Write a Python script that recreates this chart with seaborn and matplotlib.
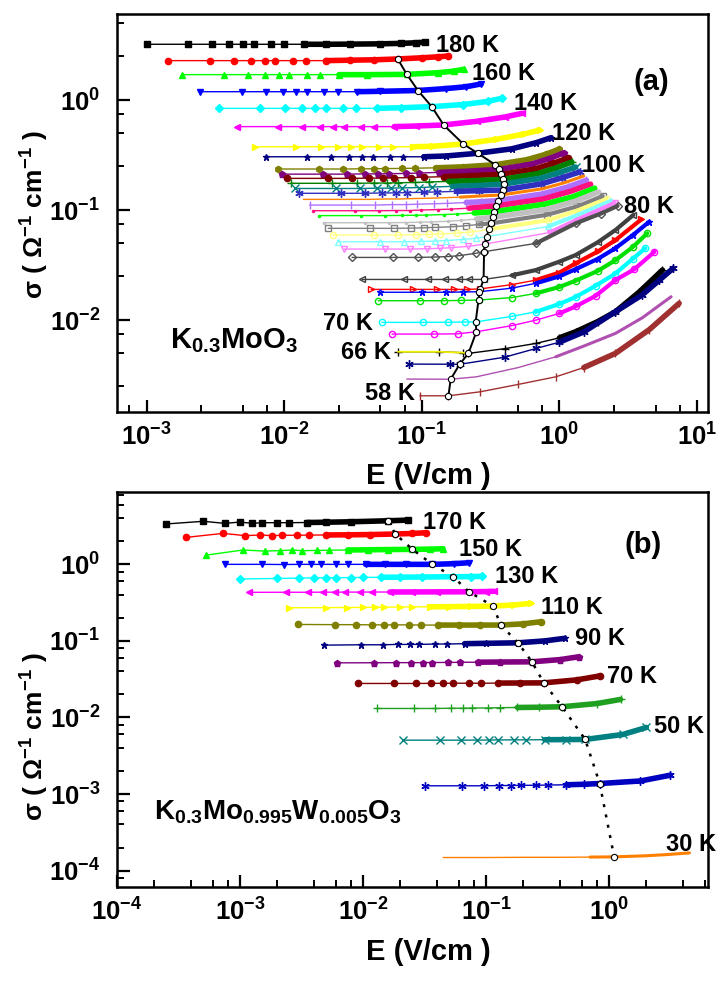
import matplotlib
matplotlib.use("Agg")
import matplotlib.pyplot as plt
import seaborn as sns
import pandas as pd
from matplotlib import font_manager as fm
from matplotlib.ticker import LogLocator, NullFormatter, LogFormatterSciNotation

# ---------------- data: panel (a) K0.3MoO3 ----------------
a_E = [
    [0.001, 0.002, 0.003, 0.004, 0.005, 0.006, 0.008, 0.010, 0.014, 0.02, 0.03, 0.05, 0.07, 0.09, 0.105],
    [0.00144, 0.00288, 0.00432, 0.00576, 0.0072, 0.00864, 0.0115, 0.0144, 0.02, 0.03, 0.045, 0.0668, 0.1, 0.13, 0.156],
    [0.00182, 0.00364, 0.00546, 0.00728, 0.0091, 0.0109, 0.0146, 0.0182, 0.025, 0.04, 0.0778, 0.13, 0.17, 0.201],
    [0.00245, 0.0049, 0.00735, 0.0098, 0.01225, 0.0147, 0.0196, 0.0245, 0.034, 0.05, 0.0937, 0.15, 0.21, 0.27],
    [0.00335, 0.0067, 0.01005, 0.0134, 0.01675, 0.0201, 0.0268, 0.0335, 0.047, 0.07, 0.118, 0.2, 0.3, 0.384],
    [0.00452, 0.00904, 0.01356, 0.01808, 0.0226, 0.0271, 0.0362, 0.0452, 0.063, 0.09, 0.144, 0.25, 0.4, 0.535],
    [0.00614, 0.01228, 0.01842, 0.02456, 0.0307, 0.0368, 0.0491, 0.0614, 0.086, 0.12, 0.2, 0.35, 0.55, 0.72],
    [0.00734, 0.01468, 0.02202, 0.02936, 0.0367, 0.044, 0.0587, 0.0734, 0.103, 0.15, 0.255, 0.45, 0.68, 0.87],
    [0.00897, 0.0179, 0.0269, 0.0359, 0.0449, 0.0538, 0.0718, 0.0897, 0.126, 0.2, 0.341, 0.58, 0.8, 1.0],
    [0.0096, 0.0192, 0.0288, 0.0384, 0.048, 0.0576, 0.0768, 0.096, 0.134, 0.21, 0.366, 0.63, 0.85, 1.07],
    [0.0104, 0.0208, 0.0312, 0.0416, 0.052, 0.0624, 0.0832, 0.104, 0.146, 0.22, 0.377, 0.66, 0.9, 1.15],
    [0.0112, 0.0224, 0.0336, 0.0448, 0.056, 0.0672, 0.0896, 0.112, 0.157, 0.24, 0.388, 0.69, 0.95, 1.23],
    [0.0119, 0.0238, 0.0357, 0.0476, 0.0595, 0.0714, 0.0952, 0.119, 0.167, 0.25, 0.392, 0.72, 1.0, 1.31],
    [0.0129, 0.0258, 0.0387, 0.0516, 0.0645, 0.0774, 0.103, 0.129, 0.181, 0.26, 0.388, 0.74, 1.05, 1.40],
    [0.0138, 0.0276, 0.0414, 0.0552, 0.069, 0.0828, 0.11, 0.138, 0.19, 0.26, 0.377, 0.75, 1.1, 1.5],
    [0.0153, 0.0306, 0.0459, 0.0612, 0.0765, 0.0918, 0.122, 0.153, 0.21, 0.27, 0.36, 0.75, 1.15, 1.57],
    [0.0163, 0.0326, 0.0489, 0.0652, 0.0815, 0.0978, 0.13, 0.163, 0.22, 0.347, 0.76, 1.2, 1.68],
    [0.018, 0.036, 0.054, 0.072, 0.09, 0.108, 0.144, 0.18, 0.24, 0.337, 0.78, 1.25, 1.80],
    [0.0193, 0.0386, 0.0579, 0.0772, 0.0965, 0.116, 0.154, 0.193, 0.25, 0.33, 0.8, 1.3, 1.92],
    [0.0209, 0.0418, 0.0627, 0.0836, 0.1045, 0.125, 0.167, 0.209, 0.26, 0.319, 0.81, 1.35, 2.06],
    [0.0225, 0.045, 0.0675, 0.09, 0.1125, 0.135, 0.18, 0.225, 0.307, 0.82, 1.35, 2.20],
    [0.0248, 0.0496, 0.0744, 0.0992, 0.124, 0.149, 0.198, 0.248, 0.295, 0.83, 1.35, 2.35],
    [0.0272, 0.0544, 0.0816, 0.109, 0.136, 0.163, 0.218, 0.286, 0.85, 1.35, 2.51],
    [0.0311, 0.0622, 0.0933, 0.124, 0.156, 0.187, 0.249, 0.283, 0.675, 1.31, 2.0, 2.64],
    [0.0369, 0.0738, 0.1107, 0.148, 0.185, 0.221, 0.281, 0.45, 0.675, 1.0, 1.31, 1.9, 2.55, 3.44],
    [0.0428, 0.0856, 0.128, 0.171, 0.214, 0.266, 0.45, 0.675, 1.0, 1.31, 1.9, 2.55, 3.93],
    [0.0499, 0.0998, 0.15, 0.2, 0.262, 0.45, 0.675, 1.0, 1.31, 1.9, 2.55, 3.4, 4.49],
    [0.0482, 0.0964, 0.145, 0.193, 0.258, 0.45, 0.675, 1.0, 1.31, 1.9, 2.55, 3.4, 4.34],
    [0.0512, 0.1024, 0.154, 0.205, 0.246, 0.45, 0.675, 1.0, 1.31, 1.83, 2.55, 3.4, 4.2],
    [0.0608, 0.1216, 0.182, 0.249, 0.45, 0.675, 1.0, 1.31, 1.83, 2.55, 3.5, 4.9],
    [0.0668, 0.1336, 0.2, 0.218, 0.4, 0.675, 1.0, 1.31, 1.9, 2.55, 3.8, 5.6],
    [0.0805, 0.161, 0.188, 0.4, 0.675, 1.0, 1.5, 2.55, 4.0, 5.3, 6.68],
    [0.0778, 0.162, 0.249, 0.5, 0.94, 1.5, 2.55, 4.0, 6.47],
    [0.0968, 0.156, 0.266, 0.5, 0.94, 1.5, 2.55, 4.5, 7.4],
]
a_S = [
    [3.21, 3.21, 3.21, 3.21, 3.21, 3.21, 3.21, 3.21, 3.21, 3.21, 3.22, 3.24, 3.27, 3.31, 3.35],
    [2.28, 2.28, 2.28, 2.28, 2.28, 2.28, 2.28, 2.28, 2.28, 2.30, 2.32, 2.36, 2.42, 2.47, 2.51],
    [1.70, 1.70, 1.70, 1.70, 1.70, 1.70, 1.70, 1.70, 1.70, 1.70, 1.71, 1.77, 1.83, 1.90],
    [1.19, 1.19, 1.19, 1.19, 1.19, 1.19, 1.19, 1.19, 1.19, 1.20, 1.22, 1.27, 1.32, 1.40],
    [0.84, 0.84, 0.84, 0.84, 0.84, 0.84, 0.84, 0.84, 0.84, 0.85, 0.87, 0.91, 0.97, 1.04],
    [0.573, 0.573, 0.573, 0.573, 0.573, 0.573, 0.573, 0.573, 0.573, 0.58, 0.593, 0.64, 0.70, 0.757],
    [0.376, 0.376, 0.376, 0.376, 0.376, 0.376, 0.376, 0.376, 0.376, 0.38, 0.398, 0.44, 0.49, 0.533],
    [0.305, 0.305, 0.305, 0.305, 0.305, 0.305, 0.305, 0.305, 0.305, 0.31, 0.328, 0.36, 0.41, 0.455],
    [0.236, 0.236, 0.236, 0.237, 0.237, 0.238, 0.239, 0.24, 0.242, 0.247, 0.258, 0.287, 0.322, 0.359],
    [0.212, 0.212, 0.212, 0.213, 0.213, 0.214, 0.215, 0.217, 0.22, 0.225, 0.234, 0.262, 0.295, 0.33],
    [0.194, 0.194, 0.194, 0.195, 0.195, 0.196, 0.197, 0.199, 0.201, 0.205, 0.211, 0.236, 0.266, 0.297],
    [0.175, 0.175, 0.175, 0.176, 0.176, 0.177, 0.178, 0.18, 0.182, 0.185, 0.19, 0.214, 0.242, 0.273],
    [0.157, 0.157, 0.157, 0.158, 0.158, 0.159, 0.16, 0.162, 0.164, 0.167, 0.172, 0.194, 0.219, 0.246],
    [0.142, 0.142, 0.142, 0.143, 0.143, 0.144, 0.145, 0.146, 0.148, 0.15, 0.152, 0.173, 0.197, 0.222],
    [0.125, 0.125, 0.125, 0.126, 0.126, 0.127, 0.128, 0.129, 0.131, 0.134, 0.137, 0.156, 0.178, 0.204],
    [0.111, 0.111, 0.111, 0.112, 0.112, 0.113, 0.114, 0.115, 0.117, 0.119, 0.122, 0.14, 0.162, 0.187],
    [0.0986, 0.0986, 0.0986, 0.099, 0.099, 0.1, 0.101, 0.102, 0.104, 0.109, 0.126, 0.148, 0.172],
    [0.089, 0.089, 0.089, 0.0893, 0.0897, 0.09, 0.091, 0.092, 0.094, 0.0966, 0.113, 0.132, 0.158],
    [0.0767, 0.0767, 0.0767, 0.077, 0.0775, 0.078, 0.079, 0.0805, 0.083, 0.0859, 0.101, 0.12, 0.146],
    [0.0682, 0.0682, 0.0682, 0.0685, 0.069, 0.0695, 0.0705, 0.072, 0.074, 0.0757, 0.0905, 0.108, 0.134],
    [0.0593, 0.0593, 0.0593, 0.0596, 0.06, 0.0606, 0.0618, 0.063, 0.0668, 0.0808, 0.099, 0.126],
    [0.0515, 0.0515, 0.0515, 0.0518, 0.0522, 0.0528, 0.054, 0.0555, 0.0572, 0.071, 0.09, 0.121],
    [0.0442, 0.0442, 0.0442, 0.0445, 0.0449, 0.0455, 0.0468, 0.049, 0.0625, 0.082, 0.116],
    [0.0371, 0.0371, 0.0371, 0.0374, 0.0378, 0.0385, 0.0405, 0.0418, 0.0498, 0.0757, 0.093, 0.109],
    [0.0234, 0.0234, 0.0234, 0.0234, 0.0234, 0.0234, 0.0234, 0.0255, 0.0285, 0.034, 0.039, 0.051, 0.0658, 0.0901],
    [0.019, 0.019, 0.019, 0.019, 0.019, 0.0192, 0.021, 0.0231, 0.027, 0.0328, 0.042, 0.0533, 0.0822],
    [0.0179, 0.0179, 0.0179, 0.018, 0.0181, 0.0195, 0.0216, 0.025, 0.029, 0.036, 0.045, 0.059, 0.0783],
    [0.015, 0.015, 0.015, 0.0151, 0.0152, 0.016, 0.0175, 0.02, 0.0228, 0.028, 0.035, 0.046, 0.0614],
    [0.00953, 0.00953, 0.00955, 0.0096, 0.00962, 0.0108, 0.0119, 0.014, 0.0162, 0.0205, 0.0265, 0.036, 0.0449],
    [0.00746, 0.00746, 0.0075, 0.00783, 0.0089, 0.01, 0.0115, 0.0133, 0.0166, 0.0231, 0.029, 0.0418],
    [0.00515, 0.00515, 0.00505, 0.00498, 0.0055, 0.00614, 0.0069, 0.00783, 0.0097, 0.0119, 0.018, 0.0285],
    [0.00398, 0.00397, 0.00396, 0.0046, 0.00552, 0.0063, 0.0078, 0.0119, 0.017, 0.023, 0.0295],
    [0.00291, 0.0029, 0.00305, 0.0037, 0.00464, 0.0058, 0.00757, 0.0105, 0.0163],
    [0.00205, 0.00205, 0.00223, 0.0026, 0.00305, 0.0037, 0.00498, 0.0082, 0.0142],
]
a_thr_E = [0.0668, 0.0778, 0.0937, 0.118, 0.144, 0.2, 0.255, 0.341, 0.366, 0.377, 0.388, 0.392, 0.388,
           0.377, 0.36, 0.347, 0.337, 0.33, 0.319, 0.307, 0.295, 0.286, 0.283, 0.281, 0.266, 0.262,
           0.258, 0.246, 0.249, 0.218, 0.188, 0.162, 0.156]
a_thr_S = [2.36, 1.71, 1.22, 0.87, 0.593, 0.398, 0.328, 0.258, 0.234, 0.211, 0.190, 0.172, 0.152,
           0.137, 0.122, 0.109, 0.0966, 0.0859, 0.0757, 0.0668, 0.0572, 0.049, 0.0418, 0.0234, 0.0192,
           0.0181, 0.0152, 0.00962, 0.00783, 0.00498, 0.00396, 0.0029, 0.00205]
a_lab_text = ["180 K", "160 K", "140 K", "120 K", "100 K", "80 K"]
a_lab_E = [0.126, 0.233, 0.468, 0.88, 1.45, 2.92]
a_lab_S = [3.1, 1.75, 0.933, 0.498, 0.256, 0.107]
a_lab2_text = ["70 K", "66 K", "58 K"]
a_lab2_E = [0.0443, 0.0597, 0.089]
a_lab2_S = [0.0093, 0.0051, 0.00215]

# ---------------- data: panel (b) K0.3Mo0.995W0.005O3 ----------------
b_E = [
    [2.51e-4, 5.02e-4, 7.53e-4, 1.0e-3, 1.26e-3, 1.51e-3, 2.0e-3, 2.51e-3, 3.5e-3, 5e-3, 8e-3, 0.016, 0.023],
    [3.65e-4, 7.3e-4, 1.1e-3, 1.46e-3, 1.83e-3, 2.19e-3, 2.92e-3, 3.65e-3, 5e-3, 7.5e-3, 0.0115, 0.0183, 0.025, 0.0327],
    [5.3e-4, 1.06e-3, 1.59e-3, 2.12e-3, 2.65e-3, 3.18e-3, 4.24e-3, 5.3e-3, 7.5e-3, 0.011, 0.016, 0.0252, 0.035, 0.0448],
    [7.53e-4, 1.51e-3, 2.26e-3, 3.01e-3, 3.77e-3, 4.52e-3, 6.02e-3, 7.53e-3, 0.0105, 0.015, 0.0225, 0.0366, 0.055, 0.0727],
    [1e-3, 2e-3, 3e-3, 4e-3, 5e-3, 6e-3, 8e-3, 0.01, 0.014, 0.02, 0.03, 0.054, 0.075, 0.093],
    [1.18e-3, 2.36e-3, 3.54e-3, 4.72e-3, 5.9e-3, 7.08e-3, 9.44e-3, 0.0118, 0.0165, 0.025, 0.04, 0.0727, 0.1, 0.116],
    [2.48e-3, 4.96e-3, 7.44e-3, 9.92e-3, 0.0124, 0.0149, 0.0198, 0.0248, 0.035, 0.05, 0.075, 0.114, 0.17, 0.231],
    [2.95e-3, 5.9e-3, 8.85e-3, 0.0118, 0.01475, 0.0177, 0.0236, 0.0295, 0.041, 0.06, 0.09, 0.132, 0.2, 0.279],
    [4.79e-3, 9.58e-3, 0.0144, 0.0192, 0.024, 0.0287, 0.0383, 0.0479, 0.067, 0.1, 0.182, 0.3, 0.435],
    [6.12e-3, 0.01224, 0.0184, 0.0245, 0.0306, 0.0367, 0.049, 0.0612, 0.086, 0.13, 0.236, 0.4, 0.566],
    [9.02e-3, 0.018, 0.027, 0.036, 0.0451, 0.0541, 0.0722, 0.0902, 0.126, 0.19, 0.295, 0.55, 0.851],
    [0.0129, 0.0258, 0.0387, 0.0516, 0.0645, 0.0774, 0.103, 0.129, 0.18, 0.27, 0.415, 0.8, 1.24],
    [0.021, 0.042, 0.063, 0.084, 0.105, 0.126, 0.168, 0.21, 0.3, 0.45, 0.64, 1.3, 2.01],
    [0.032, 0.064, 0.096, 0.128, 0.16, 0.192, 0.256, 0.32, 0.45, 0.62, 0.84, 1.8, 3.15],
    [0.0448, 0.1, 0.2, 0.4, 0.7, 1.1, 2.0, 3.0, 4.5],
]
b_S = [
    [3.37, 3.65, 3.43, 3.57, 3.43, 3.5, 3.5, 3.5, 3.52, 3.55, 3.6, 3.71, 3.78],
    [2.25, 2.54, 2.37, 2.42, 2.37, 2.4, 2.4, 2.41, 2.42, 2.43, 2.45, 2.49, 2.53, 2.59],
    [1.32, 1.54, 1.49, 1.51, 1.54, 1.51, 1.52, 1.53, 1.54, 1.55, 1.56, 1.57, 1.58, 1.60],
    [1.0, 1.0, 0.995, 1.0, 1.0, 1.0, 1.0, 1.0, 1.0, 1.0, 1.0, 1.0, 1.02, 1.05],
    [0.643, 0.655, 0.66, 0.665, 0.668, 0.67, 0.672, 0.675, 0.678, 0.68, 0.683, 0.689, 0.692, 0.697],
    [0.431, 0.432, 0.432, 0.433, 0.433, 0.434, 0.434, 0.435, 0.435, 0.436, 0.437, 0.438, 0.441, 0.445],
    [0.271, 0.272, 0.273, 0.274, 0.275, 0.276, 0.277, 0.278, 0.279, 0.28, 0.282, 0.285, 0.295, 0.309],
    [0.164, 0.163, 0.163, 0.162, 0.162, 0.162, 0.162, 0.161, 0.161, 0.161, 0.161, 0.161, 0.167, 0.178],
    [0.088, 0.089, 0.089, 0.09, 0.09, 0.09, 0.091, 0.091, 0.092, 0.093, 0.0944, 0.1, 0.108],
    [0.0517, 0.0518, 0.052, 0.052, 0.052, 0.0522, 0.0523, 0.0525, 0.0527, 0.053, 0.0533, 0.057, 0.062],
    [0.0278, 0.0278, 0.0278, 0.0279, 0.0279, 0.028, 0.028, 0.028, 0.0281, 0.0282, 0.0283, 0.031, 0.035],
    [0.0131, 0.0131, 0.0131, 0.0132, 0.0132, 0.0133, 0.0133, 0.0134, 0.0135, 0.0136, 0.0138, 0.0152, 0.0172],
    [0.00505, 0.00505, 0.00505, 0.00506, 0.00507, 0.00508, 0.0051, 0.0051, 0.00512, 0.00514, 0.00516, 0.006, 0.0074],
    [0.00128, 0.00128, 0.00128, 0.00129, 0.00129, 0.0013, 0.0013, 0.00131, 0.00132, 0.00134, 0.00137, 0.00148, 0.00176],
    [1.48e-4, 1.48e-4, 1.49e-4, 1.49e-4, 1.5e-4, 1.51e-4, 1.56e-4, 1.62e-4, 1.7e-4],
]
b_thr_E = [0.016, 0.0183, 0.0252, 0.0366, 0.054, 0.0727, 0.114, 0.132, 0.182, 0.236, 0.295, 0.415, 0.64, 0.84, 1.1]
b_thr_S = [3.71, 2.49, 1.57, 1.0, 0.689, 0.438, 0.285, 0.161, 0.0944, 0.0533, 0.0283, 0.0138, 0.00516, 0.00137, 1.51e-4]
b_lab_text = ["170 K", "150 K", "130 K", "110 K", "90 K", "70 K", "50 K", "30 K"]
b_lab_E = [0.0308, 0.0604, 0.118, 0.279, 0.525, 0.955, 2.33, 2.92]
b_lab_S = [3.5, 1.54, 0.689, 0.274, 0.108, 0.034, 0.00753, 2.21e-4]

# ---------------- styles ----------------
AST = (6, 2, 0)
a_colors = ['#000000', '#FF0000', '#00FF00', '#0000FF', '#00FFFF', '#FF00FF', '#FFFF00', '#000080',
            '#808000', '#800080', '#800000', '#008000', '#008080', '#3030C0', '#FF8000', '#B070FF',
            '#FF1080', '#00FF00', '#C0C0C0', '#808080', '#FFFF80', '#80FFFF', '#FF80FF', '#505050',
            '#404040', '#FF0000', '#0000FF', '#00E000', '#00FFFF', '#FF00FF', '#000000', '#000080',
            '#B050B0', '#A03030']
a_markers = ['s', 'o', '^', 'v', 'D', '<', '>', '*', 'h', 'p', 'o', '+', 'x', AST, None, '|',
             '.', '.', '.', 's', 'o', '^', 'v', 'D', '<', '>', '*', 'o', 'o', 'o', '+', AST, None, '|']
a_filled = [1, 1, 1, 1, 1, 1, 1, 1, 1, 1, 1, 1, 1, 1, 1, 1, 1, 1, 1,
            0, 0, 0, 0, 0, 0, 0, 0, 0, 0, 0, 1, 1, 1, 1]
b_colors = ['#000000', '#FF0000', '#00FF00', '#0000FF', '#00FFFF', '#FF00FF', '#FFFF00', '#808000',
            '#000080', '#800080', '#800000', '#20A020', '#008080', '#0000C0', '#FF8000']
b_markers = ['s', 'o', '^', 'v', 'D', '<', '>', 'o', '*', 'p', 'o', '+', 'x', AST, None]

# ---------------- fonts / theme ----------------
sns.set_theme(style="ticks")
_names = {f.name for f in fm.fontManager.ttflist}
MAIN = 'Liberation Sans Narrow' if 'Liberation Sans Narrow' in _names else 'Liberation Sans'
plt.rcParams['font.family'] = [MAIN, 'DejaVu Sans']
plt.rcParams['font.weight'] = 'bold'
plt.rcParams['mathtext.fontset'] = 'custom'
plt.rcParams['mathtext.rm'] = MAIN + ':bold'
plt.rcParams['mathtext.bf'] = MAIN + ':bold'
plt.rcParams['mathtext.it'] = MAIN + ':bold'
plt.rcParams['mathtext.sf'] = MAIN + ':bold'
plt.rcParams['mathtext.default'] = 'bf'
plt.rcParams['axes.unicode_minus'] = False
plt.rcParams['text.color'] = 'black'
plt.rcParams['axes.labelcolor'] = 'black'
plt.rcParams['xtick.color'] = 'black'
plt.rcParams['ytick.color'] = 'black'
plt.rcParams['axes.edgecolor'] = 'black'

fig = plt.figure(figsize=(7.25, 9.85), dpi=100)
ax1 = fig.add_axes([0.1614, 0.5817, 0.8152, 0.4041])
ax2 = fig.add_axes([0.1614, 0.0995, 0.8152, 0.4010])


def draw_curve(ax, E, S, color, marker, filled):
    df = pd.DataFrame({'E': E, 'S': S})
    kw = dict(color=color, lw=1.0, estimator=None, sort=False, legend=False, ax=ax, zorder=2)
    if marker is not None:
        if marker in ('+', 'x', '|', AST):
            ms = 6
        elif marker == '.':
            ms = 3
        else:
            ms = 4.5
        kw.update(marker=marker, ms=ms, mec=color, mfc=(color if filled else 'none'), mew=1.0)
    sns.lineplot(data=df, x='E', y='S', **kw)
    k = next((i for i, e in enumerate(E) if e >= 12 * E[0]), None)
    if k is not None and k < len(E) - 1:
        if marker is None:
            bw = 2.2
        elif not filled:
            bw = 3.0
        else:
            bw = 4.0
        band = df.iloc[k:]
        sns.lineplot(data=band, x='E', y='S', color=color, lw=bw, estimator=None, sort=False,
                     legend=False, ax=ax, zorder=2.5)


def style_axes(ax, xlim, ylim, subs):
    ax.set_xscale('log')
    ax.set_yscale('log')
    ax.set_xlim(*xlim)
    ax.set_ylim(*ylim)
    for axis in (ax.xaxis, ax.yaxis):
        axis.set_major_locator(LogLocator(base=10, numticks=20))
        axis.set_minor_locator(LogLocator(base=10, subs=subs, numticks=20))
        axis.set_minor_formatter(NullFormatter())
        axis.set_major_formatter(LogFormatterSciNotation())
    ax.tick_params(which='major', direction='in', length=9, width=1.6, top=False, right=False,
                   labelsize=18.5, colors='black')
    ax.tick_params(which='minor', direction='in', length=5, width=1.4, top=False, right=False,
                   colors='black')
    ax.tick_params(axis='y', which='major', pad=12)
    ax.tick_params(axis='x', which='major', pad=8)
    for sp in ax.spines.values():
        sp.set_linewidth(1.8)
        sp.set_color('black')
        sp.set_visible(True)
    ax.grid(False)
    ax.set_facecolor('white')


for ax in (ax1, ax2):
    ax.set_xscale('log')
    ax.set_yscale('log')

# panel (a)
for E, S, c, m, f in zip(a_E, a_S, a_colors, a_markers, a_filled):
    draw_curve(ax1, E, S, c, m, f)
# 66 K curve: yellow connecting line in the ohmic part
sns.lineplot(x=a_E[30][:4], y=a_S[30][:4], color='#F0F000', lw=1.3, estimator=None, sort=False,
             legend=False, ax=ax1, zorder=2.6)
sns.lineplot(x=a_thr_E, y=a_thr_S, color='black', lw=1.4, marker='o', ms=4.5, mfc='white', mec='black',
             mew=0.8, estimator=None, sort=False, legend=False, ax=ax1, zorder=5)
style_axes(ax1, (6.1e-4, 12.0), (1.46e-3, 6.05), (2.5, 5.0, 7.5))

for t, x, y in zip(a_lab_text, a_lab_E, a_lab_S):
    ax1.text(x, y, t, fontsize=17, fontweight='bold', color='black', ha='left', va='center', zorder=6)
for t, x, y in zip(a_lab2_text, a_lab2_E, a_lab2_S):
    ax1.text(x, y, t, fontsize=17, fontweight='bold', color='black', ha='right', va='center', zorder=6)
ax1.text(0.904, 0.83, '(a)', transform=ax1.transAxes, fontsize=21, fontweight='bold', color='black',
         ha='center', va='center')
ax1.text(0.09, 0.16, r'$K_{0.3}MoO_3$', transform=ax1.transAxes, fontsize=21, color='black', ha='left',
         va='baseline')
ax1.set_xlabel('E (V/cm )', fontsize=21, fontweight='bold', color='black')
ax1.set_ylabel(r'σ ( Ω$^{-1}$ cm$^{-1}$ )', fontsize=19, fontweight='bold', color='black')
ax1.xaxis.set_label_coords(0.526, -0.125)
ax1.yaxis.set_label_coords(-0.112, 0.495)

# panel (b)
for E, S, c, m in zip(b_E, b_S, b_colors, b_markers):
    draw_curve(ax2, E, S, c, m, 1)
sns.lineplot(x=b_thr_E, y=b_thr_S, color='black', lw=1.8, linestyle=(0, (1.2, 3.0)), marker='o', ms=4.5,
             mfc='white', mec='black', mew=0.8, estimator=None, sort=False, legend=False, ax=ax2, zorder=5)
style_axes(ax2, (1.0e-4, 6.38), (6.1e-5, 8.81), (2.0, 4.0, 6.0, 8.0))

for t, x, y in zip(b_lab_text, b_lab_E, b_lab_S):
    ax2.text(x, y, t, fontsize=17, fontweight='bold', color='black', ha='left', va='center', zorder=6,
             clip_on=False)
ax2.text(0.891, 0.866, '(b)', transform=ax2.transAxes, fontsize=21, fontweight='bold', color='black',
         ha='center', va='center')
ax2.text(0.063, 0.172, r'$K_{0.3}Mo_{0.995}W_{0.005}O_3$', transform=ax2.transAxes, fontsize=20,
         color='black', ha='left', va='baseline')
ax2.set_xlabel('E (V/cm )', fontsize=21, fontweight='bold', color='black')
ax2.set_ylabel(r'σ ( Ω$^{-1}$ cm$^{-1}$ )', fontsize=19, fontweight='bold', color='black')
ax2.xaxis.set_label_coords(0.526, -0.129)
ax2.yaxis.set_label_coords(-0.112, 0.38)

fig.savefig('out.png', dpi=100, facecolor='white')
